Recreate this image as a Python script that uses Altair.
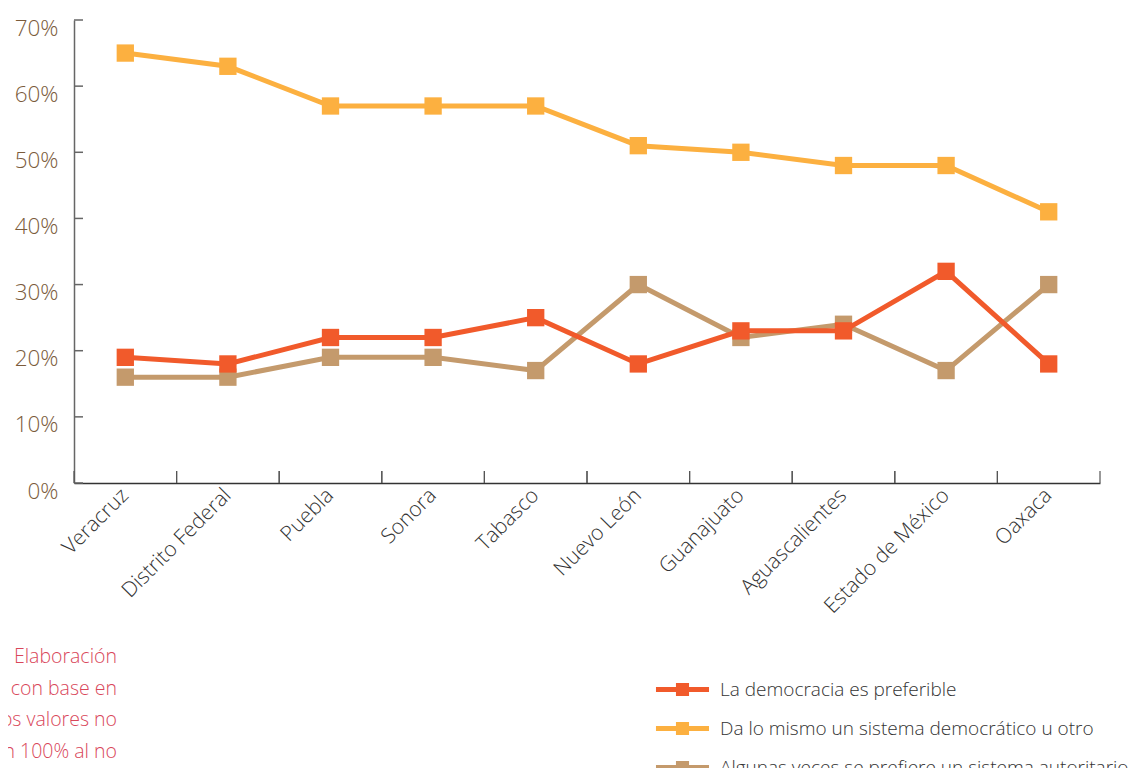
import altair as alt
import pandas as pd

estados = ["Veracruz", "Distrito Federal", "Puebla", "Sonora", "Tabasco",
           "Nuevo León", "Guanajuato", "Aguascalientes", "Estado de México", "Oaxaca"]
series_names = ["La democracia es preferible",
                "Da lo mismo un sistema democrático u otro",
                "Algunas veces se prefiere un sistema autoritario"]
democracia = [19, 18, 22, 22, 25, 18, 23, 23, 32, 18]
da_lo_mismo = [65, 63, 57, 57, 57, 51, 50, 48, 48, 41]
autoritario = [16, 16, 19, 19, 17, 30, 22, 24, 17, 30]
colores = ["#F15A2B", "#FCB040", "#C49A6C"]
y_ticks = [0, 10, 20, 30, 40, 50, 60, 70]
nota = [": Elaboración", "con base en", "os valores no", "n 100% al no"]

FONT = "Open Sans"

valores = [democracia, da_lo_mismo, autoritario]
rows = []
for name, vals in zip(series_names, valores):
    for e, v in zip(estados, vals):
        rows.append({"estado": e, "valor": v, "serie": name})
df = pd.DataFrame(rows)
ticks_df = pd.DataFrame({"valor": y_ticks})
est_df = pd.DataFrame({"estado": estados})

x_scale = alt.Scale(type="band", domain=estados, paddingInner=0, paddingOuter=0)
y_scale = alt.Scale(domain=[0, 70], nice=False)
color_scale = alt.Scale(domain=series_names, range=colores)

# legend symbol: thin line with a square in the middle (r = sqrt(size)/2 = 8.5)
LEG_PATH = "M-3.12,-0.29H3.12V0.29H-3.12Z M-0.77,-0.77H0.77V0.77H-0.77Z"

x_axis = alt.Axis(title=None, ticks=False, domainColor="#333", domainWidth=1.5,
                  labelAngle=-45, labelAlign="right", labelBaseline="middle",
                  labelFontSize=21, labelColor="#333", labelFont=FONT,
                  labelFontWeight=300, labelPadding=9)
y_axis = alt.Axis(title=None, ticks=False, grid=False, values=y_ticks,
                  labelExpr="datum.value + '%'", domainColor="#666", domainWidth=1.5,
                  labelColor="#7B5B3B", labelFontSize=22.5, labelFont=FONT,
                  labelFontWeight=300, labelPadding=16, labelBaseline="middle",
                  labelOffset=8)
legend = alt.Legend(
    title=None, orient="none", legendX=599, legendY=660,
    symbolType=LEG_PATH, symbolSize=289, symbolStrokeWidth=0,
    symbolOpacity=1, labelFontSize=19, labelColor="#333",
    labelFont=FONT, labelFontWeight=300, labelOffset=28,
    rowPadding=19, padding=0, labelLimit=600)

X = alt.X("estado:N", scale=x_scale, sort=estados, axis=x_axis)
Y = alt.Y("valor:Q", scale=y_scale, axis=y_axis)
C = alt.Color("serie:N", scale=color_scale, legend=legend)

layers = []
# draw order: orange, tan, red
for idx in [1, 2, 0]:
    name = series_names[idx]
    sub = df[df["serie"] == name]
    line = alt.Chart(sub).mark_line(strokeWidth=5).encode(x=X, y=Y, color=C)
    pts = alt.Chart(sub).mark_point(shape="square", filled=True, size=300, opacity=1).encode(
        x=X, y=Y, color=C)
    layers += [line, pts]

ytick_rules = alt.Chart(ticks_df).mark_rule(color="#666", strokeWidth=1.5).encode(
    y=Y, x=alt.value(0), x2=alt.value(9),
)
xtick_left = alt.Chart(est_df).mark_rule(color="#555", strokeWidth=1.2).encode(
    x=alt.X("estado:N", scale=x_scale, sort=estados, bandPosition=0, axis=x_axis),
    y=alt.value(451), y2=alt.value(463),
)
xtick_right = alt.Chart(est_df).mark_rule(color="#555", strokeWidth=1.2).encode(
    x=alt.X("estado:N", scale=x_scale, sort=estados, bandPosition=1, axis=x_axis),
    y=alt.value(451), y2=alt.value(463),
)
note = alt.Chart(pd.DataFrame({"a": [0]})).mark_text(
    text=nota, align="right", baseline="top", font=FONT, fontSize=19.5,
    fontWeight=300, color="#D9475A", lineHeight=31.5,
).encode(x=alt.value(43), y=alt.value(628))

chart = alt.layer(*layers, ytick_rules, xtick_left, xtick_right, note).properties(
    width=1026, height=463,
    autosize=alt.AutoSizeParams(type="none"),
    padding={"left": 66, "top": 12, "right": 34, "bottom": 285},
).configure_view(stroke=None)

chart.save("out.html", embed_options={"renderer": "svg", "actions": False})
